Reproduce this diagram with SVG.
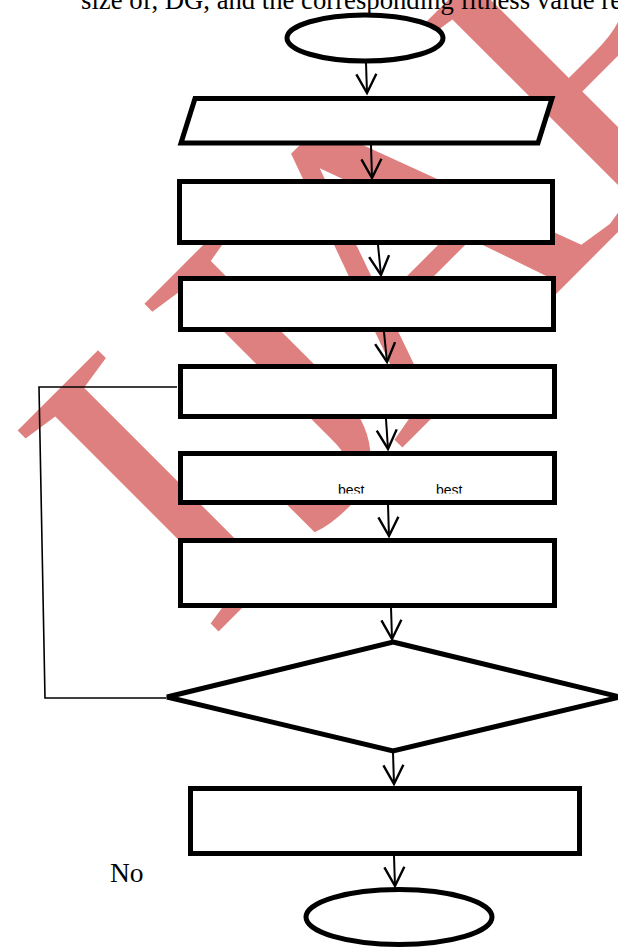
<svg xmlns="http://www.w3.org/2000/svg" width="618" height="947" viewBox="0 0 618 947">
  <style>
    .shape { fill: #ffffff; stroke: #000000; stroke-width: 5; stroke-linejoin: miter; }
    .flow { fill: none; stroke: #000000; stroke-width: 2; }
    .loop { fill: none; stroke: #000000; stroke-width: 1.6; }
    .serif { font-family: "Liberation Serif", "Times New Roman", serif; fill: #000000; }
    .sub { font-family: "Liberation Sans", Arial, sans-serif; font-size: 14px; fill: #000000; }
    .mark { font-family: "Liberation Serif", "Times New Roman", serif; fill: #df8080; }
  </style>
  <defs>
    <marker id="vhead" markerUnits="userSpaceOnUse" viewBox="-24 -14 28 28" markerWidth="28" markerHeight="28" refX="0" refY="0" orient="auto" overflow="visible">
      <path d="M-19,-10 L0,0 L-19,10" fill="none" stroke="#000000" stroke-width="2.4" stroke-linejoin="miter"/>
    </marker>
    <clipPath id="bestClip">
      <rect x="180" y="455" width="372" height="38.5"/>
    </clipPath>
  </defs>

  <rect width="618" height="947" fill="#ffffff"/>

  <!-- watermark -->
  <text class="mark" font-size="434" transform="translate(207.5,642.5) rotate(-45)">IJ<tspan dx="-42">A</tspan><tspan dx="-20">R</tspan></text>

  <!-- running text of the page, cut at the top edge -->
  <text class="serif" x="81" y="9" font-size="26.7">size of, DG, and the corresponding fitness value re</text>

  <!-- connectors -->
  <g id="connectors">
    <path class="flow" d="M366,63 L367,93" marker-end="url(#vhead)"/>
    <path class="flow" d="M371,145 L372,178" marker-end="url(#vhead)"/>
    <path class="flow" d="M378,245 L381,275" marker-end="url(#vhead)"/>
    <path class="flow" d="M384,332 L387,362" marker-end="url(#vhead)"/>
    <path class="flow" d="M386,419 L388,449" marker-end="url(#vhead)"/>
    <path class="flow" d="M388,504 L389,536" marker-end="url(#vhead)"/>
    <path class="flow" d="M391,607 L392,639" marker-end="url(#vhead)"/>
    <path class="flow" d="M393,752 L394,784" marker-end="url(#vhead)"/>
    <path class="flow" d="M394,856 L395,886" marker-end="url(#vhead)"/>
    <polyline class="loop" points="177,387 39,387 45,698 166,698"/>
  </g>

  <!-- flowchart nodes -->
  <g id="start">
    <ellipse class="shape" cx="365" cy="38" rx="78" ry="23" stroke-width="4.5"/>
  </g>
  <g id="input">
    <polygon class="shape" points="195,98.5 552,98.5 538,143 181,143" stroke-width="4.5"/>
  </g>
  <g id="step1">
    <rect class="shape" x="179.5" y="181.5" width="373" height="61"/>
  </g>
  <g id="step2">
    <rect class="shape" x="180.5" y="278.5" width="373" height="51"/>
  </g>
  <g id="step3">
    <rect class="shape" x="180.5" y="366.5" width="374" height="50"/>
  </g>
  <g id="step4">
    <rect class="shape" x="180.5" y="453.5" width="374" height="49"/>
    <g clip-path="url(#bestClip)">
      <text class="sub" x="338" y="495">best</text>
      <text class="sub" x="436" y="495">best</text>
    </g>
  </g>
  <g id="step5">
    <rect class="shape" x="180.5" y="540.5" width="374" height="65"/>
  </g>
  <g id="decision">
    <polygon class="shape" points="393,642 620,697 393,751 167,697"/>
  </g>
  <g id="output">
    <rect class="shape" x="190.5" y="788.5" width="389" height="65"/>
  </g>
  <g id="end">
    <ellipse class="shape" cx="399" cy="917" rx="93" ry="27.5"/>
  </g>

  <text class="serif" x="110" y="882" font-size="27.5">No</text>
</svg>
